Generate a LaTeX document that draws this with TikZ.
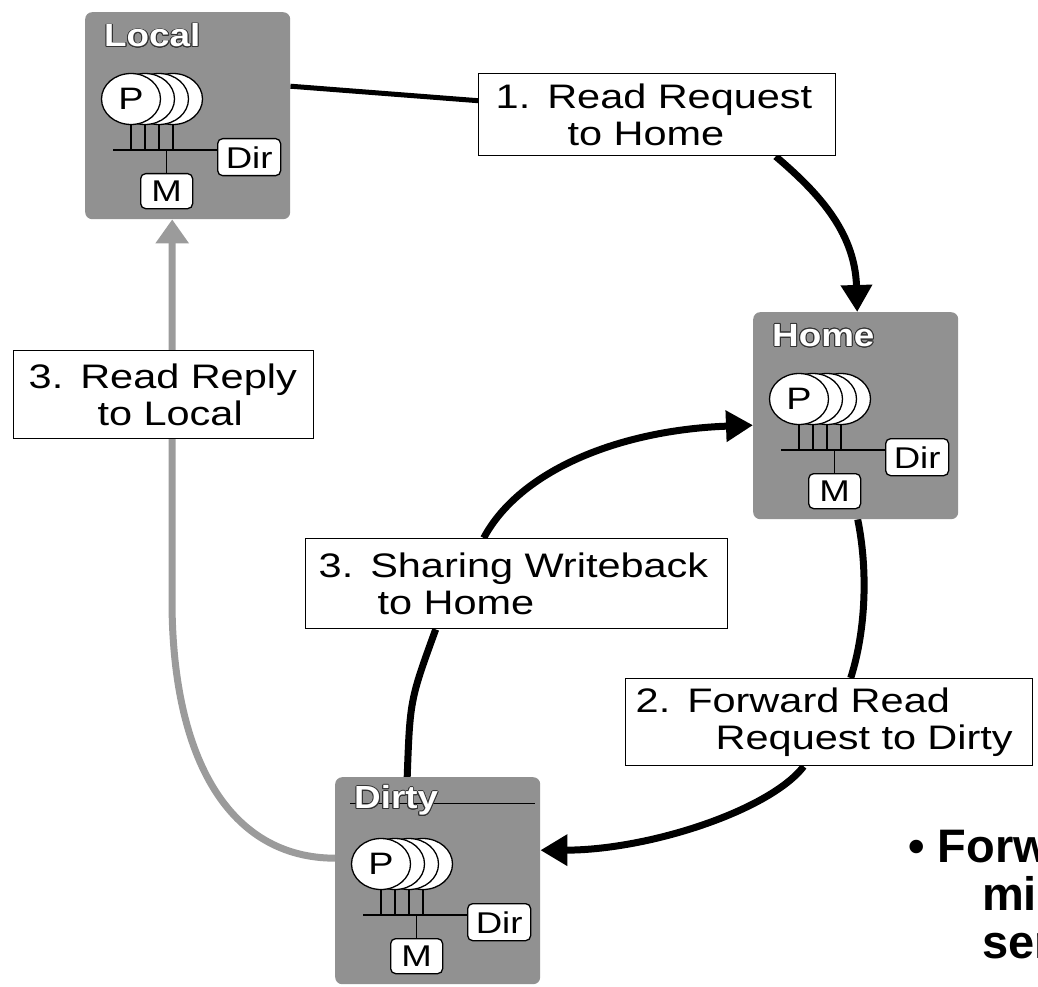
\documentclass[tikz,border=0pt]{standalone}
\usepackage{fontspec}
\setmainfont{Liberation Sans}
\newfontfamily\widefont{Liberation Sans}[FakeStretch=1.22]
\newfontfamily\titlefont{Liberation Sans}[FakeStretch=1.15]
\usepackage{contour}
\contourlength{0.9pt}
\usetikzlibrary{arrows.meta,shapes.geometric,backgrounds}
\definecolor{clgray}{RGB}{145,145,145}
\definecolor{argray}{RGB}{155,155,155}

\tikzset{
  clbox/.style={rectangle, rounded corners=7pt, fill=clgray, draw=none,
    minimum width=205pt, minimum height=207pt, inner sep=0pt, anchor=north west},
  cltitle/.style={anchor=west, inner sep=0pt, text=white,
    font=\titlefont\bfseries\fontsize{32}{32}\selectfont},
  proc/.style={ellipse, draw, line width=1.3pt, fill=white,
    minimum width=59pt, minimum height=51pt, inner sep=0pt,
    font=\widefont\fontsize{31}{31}\selectfont},
  smallbox/.style={rectangle, draw, line width=1.3pt, fill=white,
    rounded corners=5pt, inner sep=0pt, anchor=north west,
    font=\widefont\fontsize{30}{30}\selectfont},
  wire/.style={line width=1.3pt},
  lbl/.style={rectangle, draw, line width=1.4pt, fill=white, anchor=north west,
    align=left, inner ysep=0pt, font=\widefont\fontsize{34}{37}\selectfont},
  flowline/.style={line width=7pt},
  flow/.style={line width=7pt, -{Triangle[width=30pt,length=27pt]}},
  thinflow/.style={line width=5pt},
  grayflow/.style={line width=7pt, draw=argray,
    -{Triangle[width=32pt,length=24pt,fill=argray]}},
  bullettext/.style={anchor=base west, inner sep=0pt,
    font=\fontsize{47}{48}\selectfont\bfseries},
}

% one cluster: processors on a bus with directory and memory
\newcommand\cluster[5]{%
\begin{scope}[shift={(#2,#3)}]
  \node[clbox] (#1) at (0,0) {};
  #5
  \node[cltitle] (#1-title) at (19,24) {\contour{black!80}{#4}};
  \coordinate (#1-bus) at (28,138);
  \node[proc] (#1-p3) at (88,87) {};
  \node[proc] (#1-p2) at (74,87) {};
  \node[proc] (#1-p1) at (60,87) {};
  \node[proc] (#1-p0) at (46,87) {P};
  \foreach \i in {0,1,2,3} {
    \draw[wire] (#1-p\i.south) -- (#1-p\i.south |- #1-bus);
  }
  \node[smallbox, minimum width=63pt, minimum height=37pt] (#1-dir) at (132,126) {Dir};
  \node[smallbox, minimum width=52pt, minimum height=35pt] (#1-m) at (55,161) {M};
  \draw[wire] (#1-bus) -- (#1-dir.west |- #1-bus);
  \draw[wire] (#1-m.north |- #1-bus) -- (#1-m.north);
\end{scope}}

\begin{document}
\begin{tikzpicture}[x=1pt, y=-1pt]
  \useasboundingbox (0,0) rectangle (1038,987);

  % processing nodes
  \cluster{local}{85}{12}{Local}{}
  \cluster{home}{753}{312}{Home}{}
  \cluster{dirty}{335}{777}{Dirty}{\draw[line width=0.8pt] (15,26) -- (200,26);}

  % transaction labels
  \node[lbl, text width=323pt, inner xsep=17pt, minimum height=82pt] (l1) at (478,73)
    {1. Read Request\\\hspace*{72pt}to Home};
  \node[lbl, text width=387pt, inner xsep=10pt, minimum height=87pt] (l2) at (625,678)
    {2. Forward Read\\\hspace*{80pt}Request to Dirty};
  \node[lbl, text width=270pt, inner xsep=15pt, minimum height=88pt] (l3a) at (13,350)
    {3. Read Reply\\\hspace*{69pt}to Local};
  \node[lbl, text width=396pt, inner xsep=13pt, minimum height=90pt] (l3b) at (305,538)
    {3. Sharing Writeback\\\hspace*{59pt}to Home};

  \coordinate (gbend) at (172,600);

  % message paths
  \begin{scope}[on background layer]
    \draw[thinflow] ([yshift=29.5pt]local.east) -- ([yshift=14pt]l1.west);
    \draw[flow] ([xshift=118.5pt]l1.south) .. controls (815,190) and (855,230) .. ([xshift=1.5pt]home.north);
    \draw[flowline] ([xshift=2pt]home.south) .. controls (868,570) and (866,630) .. ([xshift=21.5pt]l2.north);
    \draw[flow] ([xshift=-25.5pt]l2.south) .. controls (770,810) and (650,850) .. ([yshift=30.5pt]dirty.east);
    \draw[flowline] ([xshift=-30.5pt]dirty.north) .. controls (410,700) .. ([xshift=-81pt]l3b.south);
    \draw[flow] ([xshift=-33pt]l3b.north) .. controls (520,470) and (620,430) .. ([yshift=-9.5pt]home.west);
    \draw[grayflow] ([yshift=22.5pt]dirty.west) .. controls (230,858) and (172,760) .. (gbend)
      -- ([xshift=-15.5pt]local.south);
  \end{scope}

  % bullet text at the lower right, running off the edge
  \begin{scope}
    \clip (0,0) rectangle (1038,987);
    \node[bullettext] (bt1) at (908,862) {• Forw};
    \node[bullettext] (bt2) at (982,910) {mi};
    \node[bullettext] (bt3) at (982,958) {ser};
  \end{scope}
\end{tikzpicture}
\end{document}
